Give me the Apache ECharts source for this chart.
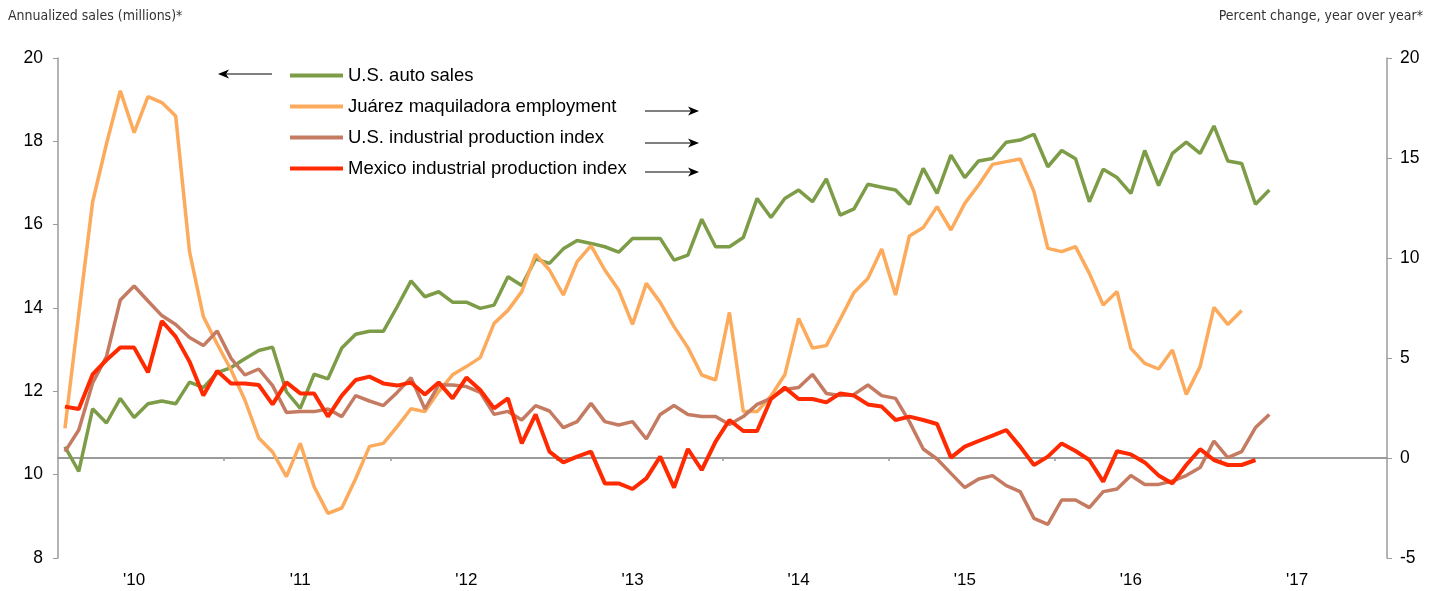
<!DOCTYPE html>
<html>
<head>
<meta charset="utf-8">
<script src="https://cdn.jsdelivr.net/npm/echarts@6/dist/echarts.min.js"></script>
<style>
html, body { margin: 0; padding: 0; background: #fff; }
#chart { width: 1440px; height: 591px; }
</style>
</head>
<body>
<div id="chart"></div>
<script>
// monthly data, first point = Aug 2009
const yearLabels = ["'10", "'11", "'12", "'13", "'14", "'15", "'16", "'17"]
const firstJanIndex = 5

// annualized sales, millions (left axis)
const autoSales = [
  10.67, 10.08, 11.58, 11.24, 11.83, 11.37, 11.70, 11.77, 11.70, 12.22,
  12.09, 12.45, 12.57, 12.78, 12.98, 13.06, 11.99, 11.59, 12.41, 12.30,
  13.04, 13.37, 13.44, 13.44, 14.03, 14.65, 14.27, 14.39, 14.14, 14.14,
  13.99, 14.07, 14.75, 14.54, 15.18, 15.07, 15.42, 15.62, 15.55, 15.47,
  15.34, 15.67, 15.67, 15.67, 15.15, 15.27, 16.13, 15.47, 15.47, 15.69,
  16.63, 16.17, 16.63, 16.83, 16.55, 17.10, 16.23, 16.38, 16.97, 16.90,
  16.83, 16.49, 17.35, 16.75, 17.67, 17.13, 17.53, 17.59, 17.98, 18.03,
  18.17, 17.39, 17.78, 17.58, 16.55, 17.33, 17.13, 16.75, 17.78, 16.94,
  17.71, 17.98, 17.71, 18.37, 17.53, 17.47, 16.49, 16.83
]

// percent change, year over year (right axis)
const juarezEmployment = [
  1.48, 7.2, 12.8, 15.7, 18.36, 16.27, 18.07, 17.77, 17.1, 10.32,
  7.07, 5.7, 4.4, 2.9, 1.0, 0.3, -0.93, 0.73, -1.43, -2.77,
  -2.5, -1.04, 0.58, 0.73, 1.57, 2.46, 2.32, 3.32, 4.16, 4.57,
  5.02, 6.73, 7.38, 8.32, 10.18, 9.4, 8.15, 9.82, 10.62, 9.4,
  8.4, 6.68, 8.73, 7.78, 6.57, 5.52, 4.15, 3.9, 7.28, 2.32,
  2.32, 3.1, 4.16, 6.98, 5.5, 5.62, 6.94, 8.28, 8.98, 10.45,
  8.15, 11.1, 11.52, 12.57, 11.4, 12.73, 13.65, 14.68, 14.82, 14.95,
  13.32, 10.48, 10.32, 10.57, 9.23, 7.65, 8.32, 5.48, 4.73, 4.45,
  5.4, 3.18, 4.57, 7.53, 6.68, 7.37
]

const usIndustrial = [
  0.32, 1.4, 3.75, 5.07, 7.9, 8.6, 7.85, 7.12, 6.68, 6.02,
  5.62, 6.35, 4.98, 4.15, 4.45, 3.62, 2.28, 2.32, 2.32, 2.45,
  2.07, 3.12, 2.85, 2.62, 3.28, 4.02, 2.45, 3.65, 3.65, 3.57,
  3.28, 2.18, 2.33, 1.9, 2.62, 2.35, 1.52, 1.82, 2.73, 1.82,
  1.65, 1.82, 0.95, 2.18, 2.62, 2.18, 2.07, 2.07, 1.68, 2.07,
  2.68, 2.98, 3.43, 3.52, 4.18, 3.23, 3.12, 3.18, 3.65, 3.12,
  2.98, 1.82, 0.45, -0.05, -0.77, -1.48, -1.05, -0.88, -1.38, -1.68,
  -3.02, -3.32, -2.1, -2.1, -2.48, -1.68, -1.55, -0.88, -1.32, -1.32,
  -1.15, -0.88, -0.48, 0.85, 0.02, 0.32, 1.52, 2.18
]

const mexicoIndustrial = [
  2.57, 2.45, 4.18, 4.9, 5.52, 5.52, 4.28, 6.85, 6.07, 4.82,
  3.12, 4.35, 3.73, 3.73, 3.65, 2.68, 3.78, 3.23, 3.23, 2.07,
  3.12, 3.9, 4.07, 3.73, 3.62, 3.78, 3.18, 3.78, 2.98, 4.02,
  3.4, 2.48, 2.98, 0.73, 2.18, 0.32, -0.22, 0.07, 0.32, -1.27,
  -1.27, -1.55, -1.02, 0.07, -1.48, 0.45, -0.6, 0.82, 1.9, 1.35,
  1.35, 2.95, 3.52, 2.95, 2.95, 2.78, 3.23, 3.12, 2.68, 2.57,
  1.9, 2.07, 1.9, 1.7, 0.02, 0.57, 0.85, 1.12, 1.4, 0.57,
  -0.35, 0.07, 0.73, 0.35, -0.1, -1.18, 0.34, 0.18, -0.22, -0.87,
  -1.27, -0.35, 0.44, -0.1, -0.35, -0.35, -0.1
]

const months = yearLabels.length * 12
const toPoints = arr => arr.map((v, i) => [i + 0.5, v])
const labelAt = yearLabels.map((_, k) => firstJanIndex + 0.5 + k * 12)
const yearTicks = yearLabels.slice(1).map((_, k) => (k + 1) * 12)

const axisGray = '#9b9b9b'
const font = 'Liberation Sans, Arial, Helvetica, sans-serif'
const narrow = 'Liberation Sans Narrow, DejaVu Sans Condensed, sans-serif'

// little arrows telling which axis a series is read on
function arrow (x1, x2, y, pointLeft) {
  const tip = pointLeft ? x1 : x2
  const d = pointLeft ? 1 : -1
  return {
    type: 'group',
    children: [
      {
        type: 'line',
        shape: { x1: pointLeft ? x1 + 6 : x1, y1: y, x2: pointLeft ? x2 : x2 - 6, y2: y },
        style: { stroke: '#000', lineWidth: 1.2 }
      },
      {
        type: 'polygon',
        shape: { points: [[tip, y], [tip + d * 11, y - 4.5], [tip + d * 8, y], [tip + d * 11, y + 4.5]] },
        style: { fill: '#000' }
      }
    ]
  }
}

const myChart = echarts.init(document.getElementById('chart'))
myChart.setOption({
  animation: false,
  backgroundColor: '#fff',
  title: [
    {
      text: 'Annualized sales (millions)*',
      left: 8,
      top: 9,
      padding: 0,
      textStyle: { fontFamily: narrow, fontSize: 14, fontWeight: 'normal', color: '#333' }
    },
    {
      text: 'Percent change, year over year*',
      right: 17,
      top: 9,
      padding: 0,
      textStyle: { fontFamily: narrow, fontSize: 14, fontWeight: 'normal', color: '#333' }
    }
  ],
  grid: {
    left: 58,
    right: 53,
    top: 58,
    bottom: 33,
    containLabel: false,
    outerBoundsMode: 'none'
  },
  legend: {
    orient: 'vertical',
    left: 290,
    top: 65,
    padding: 0,
    itemWidth: 53,
    itemHeight: 4,
    itemGap: 10,
    textStyle: { fontFamily: font, fontSize: 18.5, lineHeight: 21, color: '#000' },
    data: [
      { name: 'U.S. auto sales', icon: 'rect' },
      { name: 'Juárez maquiladora employment', icon: 'rect' },
      { name: 'U.S. industrial production index', icon: 'rect' },
      { name: 'Mexico industrial production index', icon: 'rect' }
    ]
  },
  graphic: [
    arrow(218, 272, 74, true),
    arrow(645, 699, 111, false),
    arrow(645, 699, 143, false),
    arrow(645, 699, 172, false)
  ],
  xAxis: [
    {
      // data axis, year labels at the bottom
      type: 'value',
      min: 0,
      max: months,
      position: 'bottom',
      splitLine: { show: false },
      axisLine: { show: false, onZero: false },
      axisTick: { show: false },
      axisLabel: {
        customValues: labelAt,
        formatter: v => yearLabels[Math.round((v - firstJanIndex - 0.5) / 12)],
        margin: 14,
        fontFamily: font,
        fontSize: 17,
        color: '#000'
      }
    },
    {
      // zero line of the right axis, with year ticks
      type: 'value',
      min: 0,
      max: months,
      position: 'bottom',
      splitLine: { show: false },
      axisLine: { show: true, onZero: true, onZeroAxisIndex: 1, lineStyle: { color: axisGray, width: 2 } },
      axisTick: { show: true, customValues: yearTicks, length: 3, lineStyle: { color: axisGray, width: 1.5 } },
      axisLabel: { show: false }
    }
  ],
  yAxis: [
    {
      type: 'value',
      min: 8,
      max: 20,
      interval: 2,
      position: 'left',
      splitLine: { show: false },
      axisLine: { show: true, onZero: false, lineStyle: { color: axisGray, width: 1.5 } },
      axisTick: { show: true, length: 5, lineStyle: { color: axisGray } },
      axisLabel: { margin: 15, fontFamily: font, fontSize: 17.5, color: '#000' }
    },
    {
      type: 'value',
      min: -5,
      max: 20,
      interval: 5,
      position: 'right',
      splitLine: { show: false },
      axisLine: { show: true, onZero: false, lineStyle: { color: axisGray, width: 1.5 } },
      axisTick: { show: true, length: 5, lineStyle: { color: axisGray } },
      axisLabel: { margin: 13, fontFamily: font, fontSize: 17.5, color: '#000' }
    }
  ],
  series: [
    {
      name: 'U.S. auto sales',
      type: 'line',
      xAxisIndex: 0,
      yAxisIndex: 0,
      showSymbol: false,
      symbol: 'none',
      itemStyle: { color: '#7d9c47' },
      lineStyle: { color: '#7d9c47', width: 3.5 },
      data: toPoints(autoSales)
    },
    {
      name: 'Juárez maquiladora employment',
      type: 'line',
      xAxisIndex: 0,
      yAxisIndex: 1,
      showSymbol: false,
      symbol: 'none',
      itemStyle: { color: '#fcaa5c' },
      lineStyle: { color: '#fcaa5c', width: 3.5 },
      data: toPoints(juarezEmployment)
    },
    {
      name: 'U.S. industrial production index',
      type: 'line',
      xAxisIndex: 0,
      yAxisIndex: 1,
      showSymbol: false,
      symbol: 'none',
      itemStyle: { color: '#c47b62' },
      lineStyle: { color: '#c47b62', width: 3.5 },
      data: toPoints(usIndustrial)
    },
    {
      name: 'Mexico industrial production index',
      type: 'line',
      xAxisIndex: 0,
      yAxisIndex: 1,
      showSymbol: false,
      symbol: 'none',
      itemStyle: { color: '#ff2a00' },
      lineStyle: { color: '#ff2a00', width: 4 },
      data: toPoints(mexicoIndustrial)
    }
  ]
})
window.addEventListener('resize', () => {
  myChart.resize()
})
</script>
</body>
</html>
